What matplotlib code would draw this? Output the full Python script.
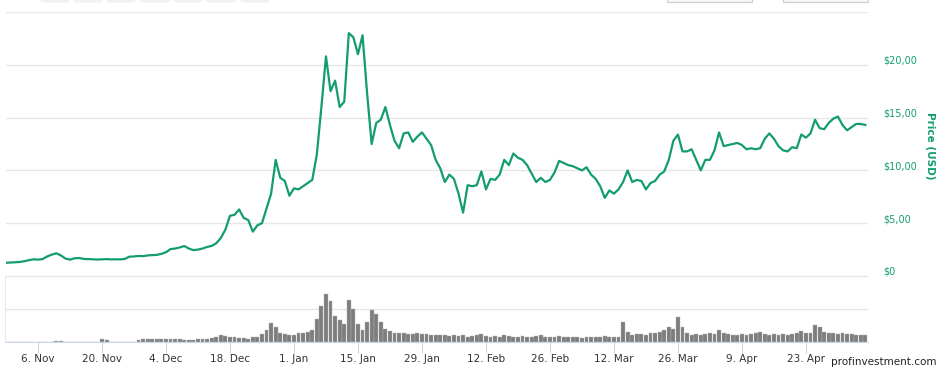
import numpy as np
import pandas as pd
import matplotlib
matplotlib.use('Agg')
from matplotlib import pyplot as plt
from matplotlib import transforms
from matplotlib.patches import FancyBboxPatch

start_date = '2017-10-30'

price = [
    1.25, 1.28, 1.30, 1.33, 1.40, 1.50, 1.58, 1.55, 1.60, 1.85,
    2.02, 2.15, 1.95, 1.65, 1.55, 1.68, 1.70, 1.62, 1.60, 1.58,
    1.56, 1.58, 1.60, 1.57, 1.58, 1.57, 1.62, 1.83, 1.85, 1.90,
    1.88, 1.95, 1.97, 2.00, 2.10, 2.25, 2.55, 2.60, 2.70, 2.84,
    2.60, 2.45, 2.50, 2.60, 2.75, 2.85, 3.10, 3.60, 4.40, 5.70,
    5.80, 6.30, 5.50, 5.30, 4.20, 4.80, 5.00, 6.40, 7.80, 11.0,
    9.30, 9.00, 7.60, 8.30, 8.20, 8.50, 8.80, 9.10, 11.5, 16.0,
    20.8, 17.5, 18.5, 16.0, 16.5, 23.0, 22.6, 21.0, 22.8, 17.3,
    12.5, 14.5, 14.8, 16.0, 14.3, 12.8, 12.1, 13.5, 13.6, 12.7,
    13.2, 13.6, 13.0, 12.4, 11.0, 10.2, 8.90, 9.60, 9.20, 7.80,
    6.00, 8.60, 8.50, 8.60, 9.90, 8.20, 9.20, 9.10, 9.60, 11.0,
    10.5, 11.6, 11.2, 11.0, 10.5, 9.70, 8.90, 9.30, 8.90, 9.10,
    9.80, 10.9, 10.7, 10.5, 10.4, 10.2, 10.0, 10.3, 9.60, 9.20,
    8.50, 7.40, 8.10, 7.80, 8.20, 8.90, 10.0, 8.90, 9.10, 9.00,
    8.20, 8.80, 9.00, 9.60, 9.90, 11.0, 12.8, 13.4, 11.8, 11.8,
    12.0, 11.0, 10.0, 11.0, 11.0, 11.9, 13.6, 12.3, 12.4, 12.5,
    12.6, 12.4, 12.0, 12.1, 12.0, 12.1, 13.0, 13.5, 13.0, 12.3,
    11.9, 11.8, 12.2, 12.1, 13.4, 13.1, 13.5, 14.8, 14.0, 13.9,
    14.5, 14.9, 15.1, 14.3, 13.8, 14.1, 14.4, 14.4, 14.3,
]

volume = [
    0.3, 0.3, 0.3, 0.3, 0.3, 0.3, 0.3, 0.3, 0.3, 0.3,
    0.3, 2.0, 1.5, 0.3, 0.3, 0.3, 0.3, 0.3, 0.3, 0.3,
    0.3, 5.0, 3.0, 0.4, 0.4, 0.4, 0.4, 0.4, 0.4, 3.0,
    4.0, 4.0, 5.0, 4.0, 4.0, 5.0, 5.0, 4.0, 4.0, 3.0,
    3.0, 3.0, 4.0, 4.0, 5.0, 6.0, 7.0, 10.0, 9.0, 8.0,
    7.0, 6.0, 6.0, 5.0, 7.0, 8.0, 12.0, 18.0, 29.0, 22.0,
    14.0, 12.0, 11.0, 11.0, 13.0, 14.0, 15.0, 18.0, 35.0, 55.0,
    72.0, 62.0, 40.0, 33.0, 28.0, 64.0, 50.0, 27.0, 18.0, 30.0,
    48.0, 42.0, 30.0, 20.0, 16.0, 14.0, 13.0, 14.0, 12.0, 12.0,
    13.0, 12.0, 12.0, 11.0, 11.0, 10.0, 10.0, 9.0, 10.0, 9.0,
    10.0, 8.0, 9.0, 10.0, 12.0, 9.0, 8.0, 9.0, 8.0, 10.0,
    9.0, 8.0, 8.0, 9.0, 7.0, 8.0, 9.0, 10.0, 8.0, 7.0,
    8.0, 9.0, 8.0, 7.0, 8.0, 7.0, 6.0, 7.0, 8.0, 7.0,
    8.0, 9.0, 8.0, 7.0, 8.0, 31.0, 15.0, 11.0, 12.0, 12.0,
    11.0, 13.0, 14.0, 15.0, 18.0, 22.0, 20.0, 38.0, 22.0, 14.0,
    11.0, 12.0, 11.0, 12.0, 13.0, 12.0, 18.0, 14.0, 12.0, 11.0,
    11.0, 12.0, 11.0, 12.0, 13.0, 15.0, 12.0, 11.0, 12.0, 11.0,
    12.0, 11.0, 12.0, 13.0, 17.0, 14.0, 13.0, 26.0, 22.0, 15.0,
    14.0, 13.0, 12.0, 13.0, 12.0, 12.0, 11.0, 11.0, 11.0,
]

tick_dates = ['2017-11-06', '2017-11-20', '2017-12-04', '2017-12-18',
              '2018-01-01', '2018-01-15', '2018-01-29', '2018-02-12',
              '2018-02-26', '2018-03-12', '2018-03-26', '2018-04-09',
              '2018-04-23']
tick_labels = ['6. Nov', '20. Nov', '4. Dec', '18. Dec', '1. Jan', '15. Jan',
               '29. Jan', '12. Feb', '26. Feb', '12. Mar', '26. Mar',
               '9. Apr', '23. Apr']

price_ticks = [0, 5, 10, 15, 20, 25]
price_labels = ['$0', '$5,00', '$10,00', '$15,00', '$20,00', '']

dates = pd.date_range(start_date, periods=len(price), freq='D')
green = '#139c72'
W, H = 949, 372

fig = plt.figure(figsize=(W / 100, H / 100), dpi=100)

# price panel
ax = fig.add_axes([6 / W, 1 - 276 / H, 862 / W, 264 / H])
ax.plot(dates, price, color=green, lw=1.6, solid_joinstyle='round')
ax.set_ylim(0, 25)
ax.set_xlim(dates[0], dates[-1] + pd.Timedelta(hours=14))
ax.set_yticks(price_ticks)
ax.set_yticklabels(price_labels)
ax.yaxis.tick_right()
ax.tick_params(axis='y', length=0, pad=11, labelsize=7, labelcolor=green)
shift = transforms.ScaledTranslation(0, 5 / 100, fig.dpi_scale_trans)
for lab in ax.get_yticklabels():
    lab.set_transform(lab.get_transform() + shift)
ax.grid(axis='y', color='#e6e6e6', lw=1)
ax.set_xticks([])
for s in ax.spines.values():
    s.set_visible(False)
ax.set_axisbelow(True)

fig.text(930 / W, 1 - 146 / H, 'Price (USD)', rotation=270, color=green,
         fontsize=7.5, fontweight='bold', ha='center', va='center')

# volume panel
axv = fig.add_axes([6 / W, 1 - 342 / H, 862 / W, 66 / H], sharex=ax)
axv.bar(dates, volume, width=0.85, color='#7d7d7d', edgecolor='#b5b5b5',
        lw=0.3)
axv.set_ylim(0, 100)
axv.set_yticks([50, 100])
axv.set_yticklabels([])
axv.tick_params(axis='y', length=0)
axv.grid(axis='y', color='#e6e6e6', lw=1)
axv.set_axisbelow(True)
for s in ['top', 'right']:
    axv.spines[s].set_visible(False)
axv.spines['left'].set_color('#e3e8f2')
axv.spines['bottom'].set_color('#ccd6eb')
axv.spines['left'].set_position(('outward', 1))
axv.set_xticks(pd.to_datetime(tick_dates))
axv.set_xticklabels(tick_labels)
axv.tick_params(axis='x', length=8, color='#ccd6eb', labelsize=7.5,
                labelcolor='#333333', pad=1)

# faint range buttons and date inputs cut at the top edge
for x0 in [41, 74, 107, 141, 174, 207, 241]:
    fig.patches.append(FancyBboxPatch((x0 / W, 1 - 2 / H), 28 / W, 6 / H,
                                      boxstyle='round,pad=0,rounding_size=0.004',
                                      transform=fig.transFigure,
                                      facecolor='#f3f3f3', edgecolor='#eeeeee',
                                      lw=0.6))
for x0 in [667, 783]:
    fig.patches.append(FancyBboxPatch((x0 / W, 1 - 2 / H), 85 / W, 6 / H,
                                      boxstyle='square,pad=0',
                                      transform=fig.transFigure,
                                      facecolor='#f7f7f7', edgecolor='#cccccc',
                                      lw=0.8))

fig.text(936 / W, 1 - 362 / H, 'profinvestment.com', fontsize=7.5,
         color='#222222', ha='right', va='center')

fig.savefig('out.png', dpi=100)
